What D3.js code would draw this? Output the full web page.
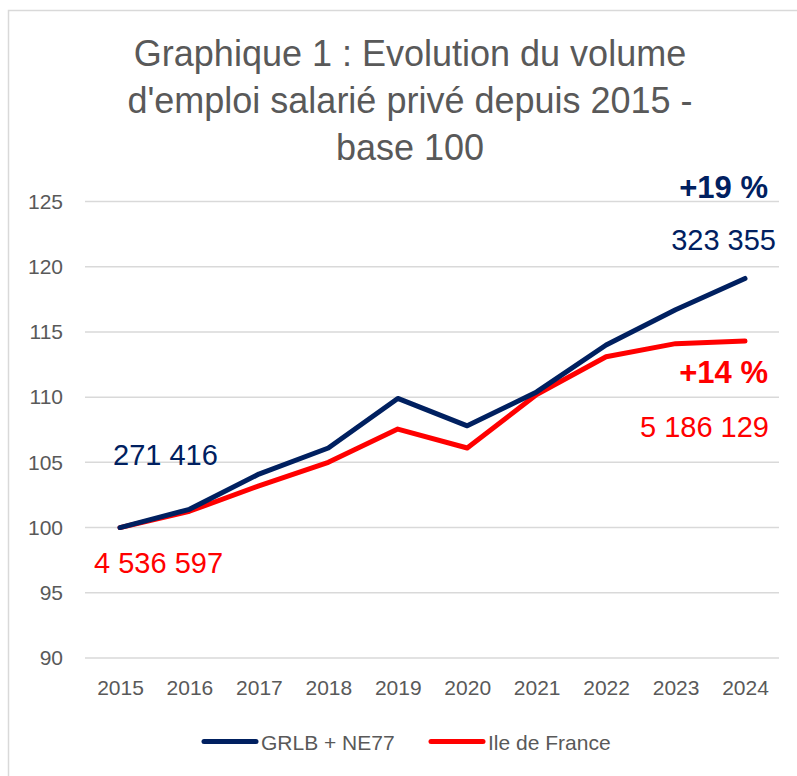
<!DOCTYPE html>
<html>
<head>
<meta charset="utf-8">
<script src="https://cdn.jsdelivr.net/npm/d3@7"></script>
<style>
  body { margin: 0; background: #fff; }
  text { font-family: "Liberation Sans", Arial, sans-serif; }
</style>
</head>
<body>
<div id="chart"></div>
<script>
// data (base 100 in 2015)
var years = ["2015", "2016", "2017", "2018", "2019", "2020", "2021", "2022", "2023", "2024"];
var grlb = [100, 101.4, 104.1, 106.1, 109.9, 107.8, 110.4, 114.0, 116.7, 119.1];
var idf = [100, 101.25, 103.2, 105.0, 107.55, 106.1, 110.2, 113.1, 114.1, 114.3];
var yTicks = [90, 95, 100, 105, 110, 115, 120, 125];
var titleLines = ["Graphique 1 : Evolution du volume", "d'emploi salarié privé depuis 2015 -", "base 100"];
var seriesNames = ["GRLB + NE77", "Ile de France"];

var navy = "#002060", red = "#ff0000", grey = "#595959";
var fontStack = "'Liberation Sans', Arial, sans-serif";

var W = 797, H = 776;

var svg = d3.select("#chart").append("svg")
    .attr("width", W)
    .attr("height", H);

// chart area border (right/bottom go off the picture)
svg.append("rect")
    .attr("x", 8.5).attr("y", 10.5)
    .attr("width", W + 10).attr("height", H + 10)
    .attr("fill", "none")
    .attr("stroke", "#d9d9d9")
    .attr("stroke-width", 1.5);

// title
svg.append("text")
    .attr("text-anchor", "middle")
    .attr("fill", grey)
    .style("font-size", "36px")
    .selectAll("tspan")
    .data(titleLines)
    .join("tspan")
      .attr("x", 410)
      .attr("y", function(d, i) { return 66 + i * 47; })
      .text(function(d) { return d; });

var x = d3.scalePoint()
    .domain(years)
    .range([120, 745]);

var y = d3.scaleLinear()
    .domain([90, 125])
    .range([658, 201.5]);

// gridlines
svg.append("g")
    .selectAll("line")
    .data(yTicks)
    .join("line")
      .attr("x1", 85).attr("x2", 779)
      .attr("y1", function(d) { return y(d); })
      .attr("y2", function(d) { return y(d); })
      .attr("stroke", "#d9d9d9")
      .attr("stroke-width", 1.5);

// y axis labels
var yAxis = svg.append("g")
    .attr("transform", "translate(71,0)")
    .call(d3.axisLeft(y).tickValues(yTicks).tickSize(0).tickPadding(8));
yAxis.select(".domain").remove();
yAxis.selectAll("text")
    .attr("fill", grey)
    .style("font-size", "21px")
    .style("font-family", fontStack);

// x axis labels
var xAxis = svg.append("g")
    .attr("transform", "translate(0,676)")
    .call(d3.axisBottom(x).tickSize(0).tickPadding(4));
xAxis.select(".domain").remove();
xAxis.selectAll("text")
    .attr("fill", grey)
    .style("font-size", "21px")
    .style("font-family", fontStack);

var line = d3.line()
    .x(function(d, i) { return x(years[i]); })
    .y(function(d) { return y(d); });

svg.append("path")
    .datum(idf)
    .attr("d", line)
    .attr("fill", "none")
    .attr("stroke", red)
    .attr("stroke-width", 5)
    .attr("stroke-linejoin", "round")
    .attr("stroke-linecap", "round");

svg.append("path")
    .datum(grlb)
    .attr("d", line)
    .attr("fill", "none")
    .attr("stroke", navy)
    .attr("stroke-width", 5)
    .attr("stroke-linejoin", "round")
    .attr("stroke-linecap", "round");

// annotations
var notes = [
  {t: "+19 %", x: 768, y: 198, c: navy, w: "bold", s: 31, a: "end"},
  {t: "323 355", x: 776, y: 250, c: navy, w: "normal", s: 29, a: "end"},
  {t: "+14 %", x: 768, y: 383, c: red, w: "bold", s: 31, a: "end"},
  {t: "5 186 129", x: 769, y: 437, c: red, w: "normal", s: 29, a: "end"},
  {t: "271 416", x: 113, y: 465, c: navy, w: "normal", s: 29, a: "start"},
  {t: "4 536 597", x: 94, y: 573, c: red, w: "normal", s: 29, a: "start"}
];
svg.append("g")
    .selectAll("text")
    .data(notes)
    .join("text")
      .attr("x", function(d) { return d.x; })
      .attr("y", function(d) { return d.y; })
      .attr("fill", function(d) { return d.c; })
      .attr("text-anchor", function(d) { return d.a; })
      .style("font-weight", function(d) { return d.w; })
      .style("font-size", function(d) { return d.s + "px"; })
      .text(function(d) { return d.t; });

// legend
var legend = [
  {name: seriesNames[0], c: navy, x: 204},
  {name: seriesNames[1], c: red, x: 431}
];
var lg = svg.append("g")
    .selectAll("g")
    .data(legend)
    .join("g")
      .attr("transform", function(d) { return "translate(" + d.x + ",741.5)"; });
lg.append("line")
    .attr("x1", 0).attr("x2", 52)
    .attr("stroke", function(d) { return d.c; })
    .attr("stroke-width", 5)
    .attr("stroke-linecap", "round");
lg.append("text")
    .attr("x", 57)
    .attr("y", 8)
    .attr("fill", grey)
    .style("font-size", "21px")
    .text(function(d) { return d.name; });
</script>
</body>
</html>
